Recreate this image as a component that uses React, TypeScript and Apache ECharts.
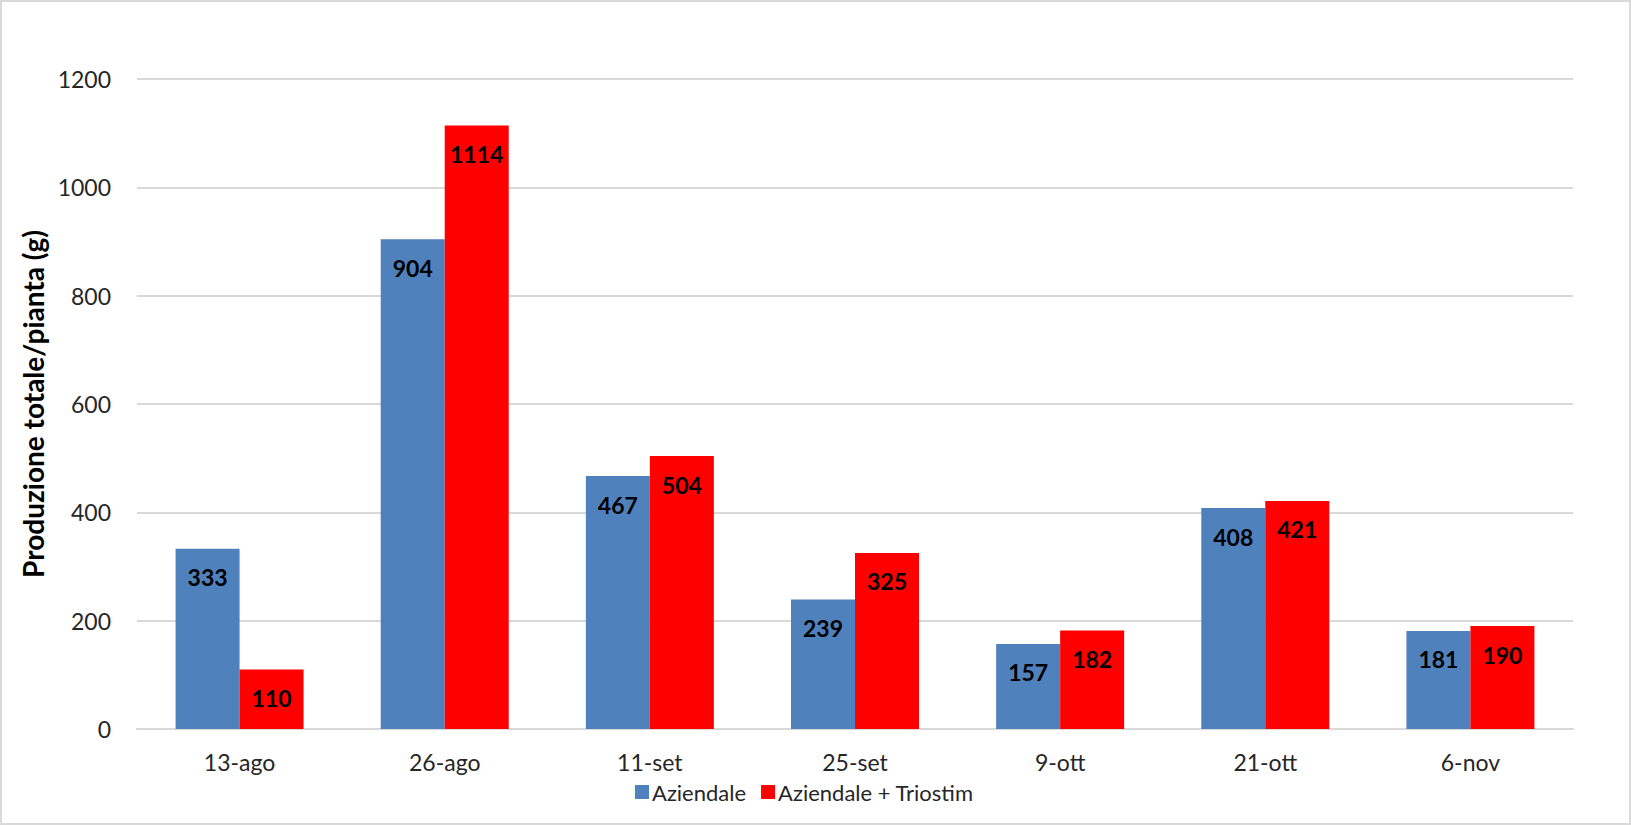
import React, { useEffect, useRef } from "react";
import * as echarts from "echarts";

const categories = ["13-ago", "26-ago", "11-set", "25-set", "9-ott", "21-ott", "6-nov"];
const aziendale = [333, 904, 467, 239, 157, 408, 181];
const triostim = [110, 1114, 504, 325, 182, 421, 190];
const seriesNames = ["Aziendale", "Aziendale + Triostim"];
const yTitle = "Produzione totale/pianta (g)";

const FONT = "Lato";

export default function App() {
  const ref = useRef<HTMLDivElement>(null);
  useEffect(() => {
    if (!ref.current) return;
    const chart = echarts.init(ref.current, null, { renderer: "svg" });
    const label = {
      show: true,
      position: "insideTop",
      distance: 17,
      color: "#000",
      fontFamily: FONT,
      fontWeight: "bold",
      fontSize: 23,
    };
    chart.setOption({
      animation: false,
      backgroundColor: "#fff",
      textStyle: { fontFamily: FONT },
      graphic: [
        {
          type: "rect",
          shape: { x: 1, y: 1, width: 1629, height: 823 },
          style: { fill: "none", stroke: "#d9d9d9", lineWidth: 2 },
          silent: true,
        },
      ],
      grid: { left: 137, right: 58, top: 79, bottom: 96 },
      legend: {
        left: 630,
        top: 776,
        itemWidth: 14,
        itemHeight: 14,
        itemGap: 15,
        icon: "rect",
        textStyle: { fontFamily: FONT, fontSize: 22, color: "#262626", padding: [0, 0, 0, -2] },
        data: seriesNames,
      },
      xAxis: {
        type: "category",
        data: categories,
        axisTick: { show: false },
        axisLine: { show: true, lineStyle: { color: "#d9d9d9", width: 2 } },
        axisLabel: { fontFamily: FONT, fontSize: 23, color: "#262626", margin: 21 },
      },
      yAxis: {
        type: "value",
        min: 0,
        max: 1200,
        interval: 200,
        name: yTitle,
        nameLocation: "middle",
        nameGap: 88,
        nameTextStyle: { fontFamily: FONT, fontSize: 28, fontWeight: "bold", color: "#000" },
        axisLine: { show: false },
        axisTick: { show: false },
        splitLine: { lineStyle: { color: "#d9d9d9", width: 2 } },
        axisLabel: {
          fontFamily: FONT,
          fontSize: 23,
          color: "#262626",
          margin: 26,
          formatter: (v: number) => String(v),
        },
      },
      series: [
        {
          name: seriesNames[0],
          type: "bar",
          data: aziendale,
          barWidth: 64,
          barGap: "0%",
          itemStyle: { color: "#4f81bd" },
          label,
        },
        {
          name: seriesNames[1],
          type: "bar",
          data: triostim,
          barWidth: 64,
          barGap: "0%",
          itemStyle: { color: "#ff0000" },
          label,
        },
      ],
    });
    return () => chart.dispose();
  }, []);
  return (
    <div
      ref={ref}
      style={{ position: "absolute", left: 0, top: 0, width: 1631, height: 825 }}
    />
  );
}
